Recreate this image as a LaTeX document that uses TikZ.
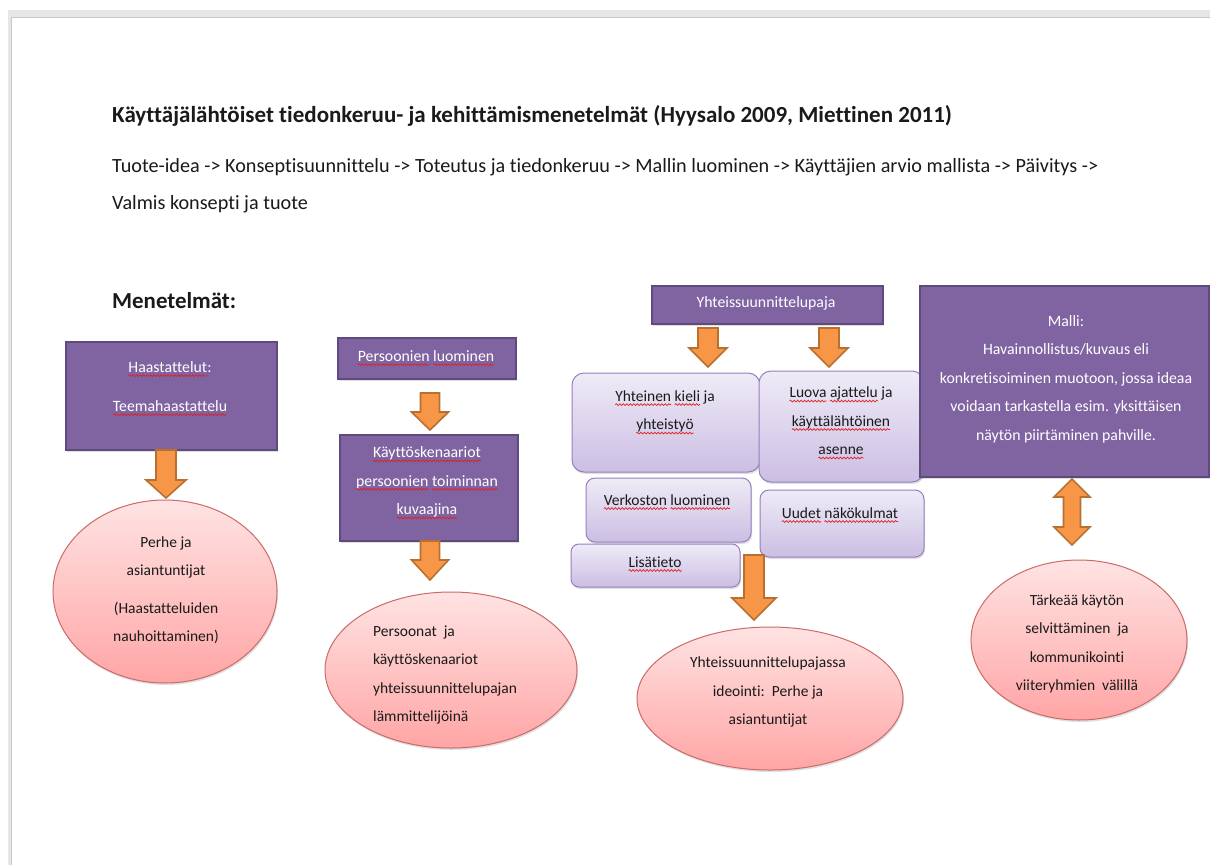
\documentclass[tikz,border=0pt]{standalone}
\usepackage{fontspec}
\setmainfont{Carlito}[Ligatures={NoCommon,TeX}]
\usetikzlibrary{shapes.geometric,shadows,decorations.pathmorphing}
\definecolor{purp}{HTML}{8064A2}
\definecolor{purpline}{HTML}{5E4A7C}
\definecolor{orng}{HTML}{F79646}
\definecolor{orngline}{HTML}{B9702F}
\definecolor{pinkt}{HTML}{FFE3E3}
\definecolor{pinkb}{HTML}{FFA5A5}
\definecolor{pinkline}{HTML}{CC6A68}
\definecolor{lavt}{HTML}{EFEBF7}
\definecolor{lavb}{HTML}{CBBEE3}
\definecolor{lavline}{HTML}{9580BE}
\definecolor{pagegray}{HTML}{E6E6E6}
\definecolor{pageline}{HTML}{C8C8C8}
\definecolor{txt}{HTML}{1A1A1A}
\definecolor{sqred}{HTML}{E02020}
\newcommand\sq[1]{\tikz[baseline=(sqw.base),x=1pt,y=1pt]{\node[inner sep=0pt,outer sep=0pt,anchor=base] (sqw) {#1};\draw[overlay, sqred, line width=0.7pt, decorate, decoration={snake, segment length=3.5pt, amplitude=0.9pt}] ([yshift=-3.2pt]sqw.base west) -- ([yshift=-3.2pt]sqw.base east);}}
\tikzset{
  pbox/.style={draw=purpline, line width=1.8pt, fill=purp, inner sep=0pt,
    drop shadow={shadow xshift=1pt, shadow yshift=-1.5pt, opacity=0.25}},
  lbox/.style={draw=lavline, line width=1pt, top color=lavt, bottom color=lavb,
    rounded corners=12pt, inner sep=0pt,
    drop shadow={shadow xshift=1pt, shadow yshift=-2pt, opacity=0.25}},
  ell/.style={ellipse, draw=pinkline, line width=1pt, top color=pinkt, bottom color=pinkb,
    inner sep=0pt, drop shadow={shadow xshift=1pt, shadow yshift=-2pt, opacity=0.25}},
  barrow/.style={draw=orngline, line width=1.6pt, fill=orng, line join=miter},
  wtext/.style={text=white, font=\fontsize{15.8}{28.5}\selectfont, align=center, inner sep=0pt},
  btext/.style={text=txt, font=\fontsize{15.5}{28.5}\selectfont, align=center, inner sep=0pt},
  body/.style={text=txt, font=\fontsize{20.2}{24}\selectfont, anchor=base west, inner sep=0pt},
}
\newcommand\darr[6]{\draw[barrow] ({#1-#5},#2) -- ({#1+#5},#2) -- ({#1+#5},#3) -- ({#1+#6},#3) -- (#1,#4) -- ({#1-#6},#3) -- ({#1-#5},#3) -- cycle;}
\newcommand\udarr[7]{\draw[barrow] (#1,#2) -- ({#1+#7},#3) -- ({#1+#6},#3) -- ({#1+#6},#4) -- ({#1+#7},#4) -- (#1,#5) -- ({#1-#7},#4) -- ({#1-#6},#4) -- ({#1-#6},#3) -- ({#1-#7},#3) -- cycle;}
\begin{document}
\begin{tikzpicture}[x=1pt,y=-1pt]
\useasboundingbox (0,0) rectangle (1210,865);
% page
\fill[pagegray] (8,10) rectangle (1210,865);
\fill[white] (12,18) rectangle (1210,865);
\draw[pageline, line width=1pt] (11.5,865) -- (11.5,17.5) -- (1210,17.5);

% header texts
\node[body, font=\bfseries\fontsize{23}{26}\selectfont] (title) at (112,122)
  {Käyttäjälähtöiset tiedonkeruu- ja kehittämismenetelmät (Hyysalo 2009, Miettinen 2011)};
\node[body] (flow1) at (112,172)
  {Tuote-idea -> Konseptisuunnittelu -> Toteutus ja tiedonkeruu -> Mallin luominen -> Käyttäjien arvio mallista -> Päivitys ->};
\node[body] (flow2) at (112,209) {Valmis konsepti ja tuote};
\node[body, font=\bfseries\fontsize{22.9}{26}\selectfont] (men) at (112,308) {Menetelmät:};

% column 1
\node[pbox, minimum width=211, minimum height=108] (haas) at (171.5,396) {};
\node[wtext] (haast) at (170,386.5) {\sq{Haastattelut}:\\[10.5pt]\sq{Teemahaastattelu}};
\darr{166}{450}{480}{498}{10}{20}
\node[ell, minimum width=224, minimum height=183] (e1) at (165,591.5) {};
\node[btext, font=\fontsize{15.5}{28}\selectfont] (e1t) at (166,590)
  {Perhe ja\\asiantuntijat\\[10pt](Haastatteluiden\\nauhoittaminen)};

% column 2
\node[pbox, minimum width=178, minimum height=41] (pers) at (427,358.5) {};
\node[wtext] (perst) at (426,356) {\sq{Persoonien} \sq{luominen}};
\darr{430}{393}{412}{430}{9.5}{18.5}
\node[pbox, minimum width=178, minimum height=106] (kay) at (429,488) {};
\node[wtext] (kayt) at (427,482) {\sq{Käyttöskenaariot}\\\sq{persoonien} \sq{toiminnan}\\\sq{kuvaajina}};
\darr{430}{541}{560}{580}{9.5}{18.5}
\node[ell, minimum width=252, minimum height=156] (e2) at (451,670) {};
\node[btext, align=left, anchor=west] (e2t) at (373,675)
  {Persoonat\ \ ja\\käyttöskenaariot\\yhteissuunnittelupajan\\lämmittelijöinä};

% column 3
\node[pbox, minimum width=231, minimum height=38] (yht) at (767.5,305) {};
\node[wtext] (yhtt) at (766,303) {Yhteissuunnittelupaja};
\darr{708}{328}{348}{367}{10}{19}
\darr{829}{328}{348}{367}{10}{19}
\node[lbox, minimum width=188, minimum height=99] (ba) at (666,422.5) {};
\node[btext] (bat) at (665,411.5) {\sq{Yhteinen} \sq{kieli} ja\\\sq{yhteistyö}};
\node[lbox, minimum width=165, minimum height=111] (bb) at (841.5,426.5) {};
\node[btext] (bbt) at (841,421) {\sq{Luova} \sq{ajattelu} ja\\\sq{käyttälähtöinen}\\\sq{asenne}};
\node[lbox, rounded corners=9pt, minimum width=165, minimum height=64] (bc) at (668.5,510) {};
\node[btext] (bct) at (667,500) {\sq{Verkoston} \sq{luominen}};
\node[lbox, rounded corners=9pt, minimum width=164, minimum height=67] (bd) at (842,523.5) {};
\node[btext] (bdt) at (840,513) {\sq{Uudet} \sq{näkökulmat}};
\node[lbox, rounded corners=8pt, minimum width=169, minimum height=43] (be) at (655.5,565.5) {};
\node[btext] (bet) at (655,562) {\sq{Lisätieto}};
\darr{754}{555}{598}{620}{10}{22}
\node[ell, minimum width=266, minimum height=143] (e3) at (770,698.5) {};
\node[btext] (e3t) at (768,692) {Yhteissuunnittelupajassa\\ideointi:\ \ Perhe ja\\asiantuntijat};

% column 4
\node[pbox, minimum width=289, minimum height=191] (malli) at (1064.5,381.5) {};
\node[wtext] (mallit) at (1066,379)
  {Malli:\\Havainnollistus/kuvaus eli\\konkretisoiminen muotoon, jossa ideaa\\voidaan tarkastella esim. yksittäisen\\näytön piirtäminen pahville.};
\udarr{1072}{479}{497}{527}{545}{8.5}{18}
\node[ell, minimum width=216, minimum height=160] (e4) at (1079,640) {};
\node[btext] (e4t) at (1077,644)
  {Tärkeää käytön\\selvittäminen\ \ ja\\kommunikointi\\viiteryhmien\ \ välillä};
\end{tikzpicture}
\end{document}
